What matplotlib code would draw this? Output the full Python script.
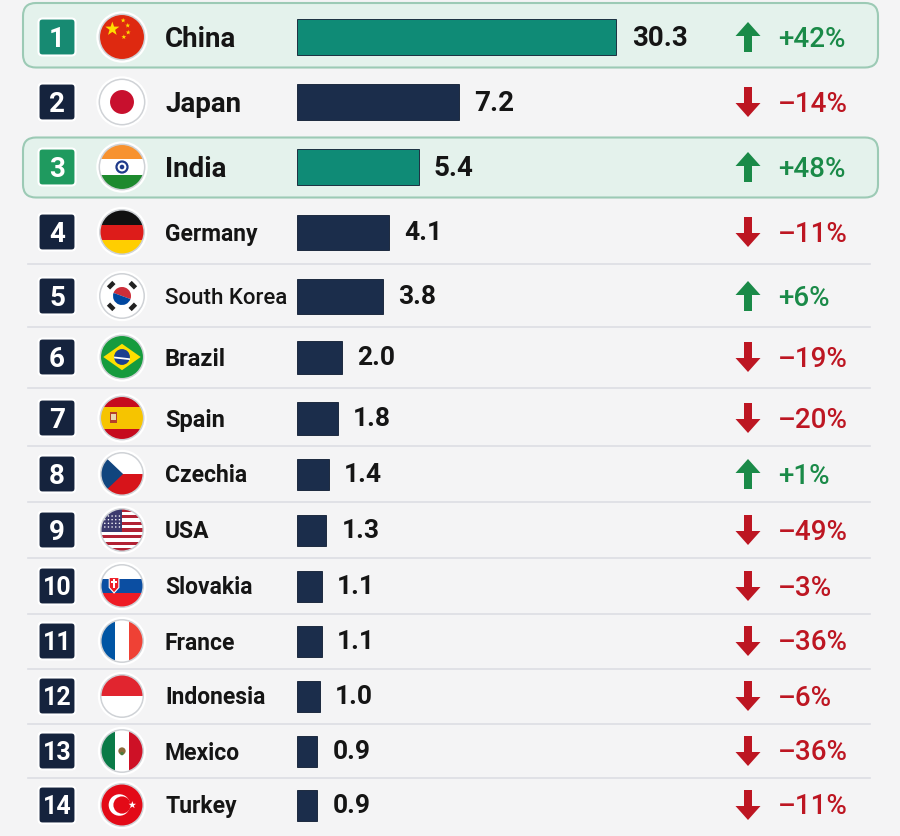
import numpy as np
import matplotlib
matplotlib.use("Agg")
import matplotlib.pyplot as plt
from matplotlib.patches import Circle, Rectangle, Polygon, FancyBboxPatch, FancyArrow, Wedge

# ---------------- data ----------------
ranks = [1, 2, 3, 4, 5, 6, 7, 8, 9, 10, 11, 12, 13, 14]
countries = ["China", "Japan", "India", "Germany", "South Korea", "Brazil", "Spain",
             "Czechia", "USA", "Slovakia", "France", "Indonesia", "Mexico", "Turkey"]
values = [30.3, 7.2, 5.4, 4.1, 3.8, 2.0, 1.8, 1.4, 1.3, 1.1, 1.1, 1.0, 0.9, 0.9]
changes = [42, -14, 48, -11, 6, -19, -20, 1, -49, -3, -36, -6, -36, -11]
highlighted = ["China", "India"]

# ---------------- layout (pixels) ----------------
W, H = 900, 837
row_y = [38, 103, 168, 233, 297, 358, 419, 475, 531, 587, 642, 697, 752, 806]
bar_h = [36, 36, 36, 35, 35, 33, 33, 31, 31, 31, 31, 31, 31, 31]
flag_r = [23, 23, 23, 22.5, 22.5, 22, 22, 21.5, 21.5, 21.5, 21.5, 21.5, 21.5, 21.5]
name_fs = [20, 20, 20, 16.5, 16, 17, 17, 16.5, 16.5, 16.5, 16.5, 16.5, 16.5, 16.5]
name_wt = ["bold"] * 4 + ["medium"] + ["bold"] * 9
BAR_LEFT = 297
PX_PER_UNIT = 22.5
BREAK, K = 8.0, 0.278

NAVY = "#1b2d4b"
BADGE_NAVY = "#15233d"
TEAL = "#0f8b76"
BADGE_TEAL = "#178a72"
BADGE_GREEN = "#1f9a5f"
UP = "#1a8a48"
DOWN = "#bd1622"
FONT = "Roboto"

fig = plt.figure(figsize=(W / 100, H / 100), dpi=100)
fig.patch.set_facecolor("#f4f4f5")
ax = fig.add_axes([0, 0, 1, 1])
ax.set_xlim(0, W)
ax.set_ylim(H, 0)
ax.axis("off")


def star(cx, cy, R, rot=0.0):
    pts = []
    for i in range(10):
        rr = R if i % 2 == 0 else R * 0.40
        a = -np.pi / 2 + i * np.pi / 5 + rot
        pts.append((cx + rr * np.cos(a), cy + rr * np.sin(a)))
    return pts


def draw_flag(name, cx, cy, r):
    clip = Circle((cx, cy), r, transform=ax.transData)
    parts = []

    def rect(x0, y0, w, h, c):
        parts.append(Rectangle((x0, y0), w, h, facecolor=c, edgecolor="none"))

    def poly(pts, c):
        parts.append(Polygon(pts, closed=True, facecolor=c, edgecolor="none"))

    def circ(x, y, rr, c, ec="none", lw=0):
        parts.append(Circle((x, y), rr, facecolor=c, edgecolor=ec, lw=lw))

    L, T, D = cx - r, cy - r, 2 * r
    if name == "China":
        rect(L, T, D, D, "#de2910")
        poly(star(cx - 0.42 * r, cy - 0.35 * r, 0.32 * r), "#ffde00")
        for (dx, dy) in [(0.05, -0.72), (0.25, -0.5), (0.27, -0.2), (0.08, 0.0)]:
            poly(star(cx + dx * r, cy + dy * r, 0.11 * r), "#ffde00")
    elif name == "Japan":
        rect(L, T, D, D, "white")
        circ(cx, cy, 0.52 * r, "#c8102e")
    elif name == "India":
        rect(L, T, D, D / 3, "#f7922f")
        rect(L, T + D / 3, D, D / 3, "white")
        rect(L, T + 2 * D / 3, D, D / 3, "#1d8a2e")
        circ(cx, cy, 0.24 * r, "none", ec="#1f3a8a", lw=1.6)
        circ(cx, cy, 0.1 * r, "#1f3a8a")
    elif name == "Germany":
        rect(L, T, D, D / 3, "#111111")
        rect(L, T + D / 3, D, D / 3, "#dd1c1a")
        rect(L, T + 2 * D / 3, D, D / 3, "#ffce00")
    elif name == "South Korea":
        rect(L, T, D, D, "white")
        parts.append(Wedge((cx, cy), 0.4 * r, 180 + 20, 360 + 20, facecolor="#cd2e3a", edgecolor="none"))
        parts.append(Wedge((cx, cy), 0.4 * r, 20, 180 + 20, facecolor="#0047a0", edgecolor="none"))
        for ang in [45, 135, 225, 315]:
            a = np.deg2rad(ang)
            px, py = cx + 0.68 * r * np.cos(a), cy + 0.68 * r * np.sin(a)
            s = 0.17 * r
            rot = a + np.pi / 2
            pts = []
            for (u, v) in [(-s, -s * 0.6), (s, -s * 0.6), (s, s * 0.6), (-s, s * 0.6)]:
                pts.append((px + u * np.cos(rot) - v * np.sin(rot), py + u * np.sin(rot) + v * np.cos(rot)))
            poly(pts, "#222222")
    elif name == "Brazil":
        rect(L, T, D, D, "#169b3e")
        poly([(cx - 0.85 * r, cy), (cx, cy - 0.6 * r), (cx + 0.85 * r, cy), (cx, cy + 0.6 * r)], "#fedf00")
        circ(cx, cy, 0.36 * r, "#1b3f8f")
        poly([(cx - 0.36 * r, cy - 0.02 * r), (cx + 0.36 * r, cy + 0.06 * r),
              (cx + 0.36 * r, cy + 0.14 * r), (cx - 0.36 * r, cy + 0.06 * r)], "white")
    elif name == "Spain":
        rect(L, T, D, D / 4, "#c60b1e")
        rect(L, T + D / 4, D, D / 2, "#f6c400")
        rect(L, T + 3 * D / 4, D, D / 4, "#c60b1e")
        rect(cx - 0.55 * r, cy - 0.28 * r, 0.34 * r, 0.5 * r, "#b5402a")
        rect(cx - 0.48 * r, cy - 0.18 * r, 0.2 * r, 0.28 * r, "#e8d9b0")
    elif name == "Czechia":
        rect(L, T, D, r, "white")
        rect(L, cy, D, r, "#d7141a")
        poly([(L, T), (cx + 0.05 * r, cy), (L, T + D)], "#11457e")
    elif name == "USA":
        sh = D / 13
        for i in range(13):
            rect(L, T + i * sh, D, sh, "#b22234" if i % 2 == 0 else "white")
        rect(L, T, r * 1.0, sh * 7, "#3c3b6e")
        for i in range(4):
            for j in range(5):
                circ(L + 0.2 * r + j * 0.17 * r, T + 0.35 * r + i * 0.17 * r, 0.035 * r, "white")
    elif name == "Slovakia":
        rect(L, T, D, D / 3, "white")
        rect(L, T + D / 3, D, D / 3, "#0b4ea2")
        rect(L, T + 2 * D / 3, D, D / 3, "#ee1c25")
        sx, sw, st = cx - 0.62 * r, 0.5 * r, cy - 0.42 * r
        poly([(sx, st), (sx + sw, st), (sx + sw, st + 0.5 * r),
              (sx + sw / 2, st + 0.78 * r), (sx, st + 0.5 * r)], "white")
        poly([(sx + 0.05 * r, st + 0.05 * r), (sx + sw - 0.05 * r, st + 0.05 * r),
              (sx + sw - 0.05 * r, st + 0.48 * r), (sx + sw / 2, st + 0.7 * r),
              (sx + 0.05 * r, st + 0.48 * r)], "#ee1c25")
        rect(sx + sw / 2 - 0.04 * r, st + 0.1 * r, 0.08 * r, 0.4 * r, "white")
        rect(sx + sw / 2 - 0.14 * r, st + 0.2 * r, 0.28 * r, 0.06 * r, "white")
    elif name == "France":
        rect(L, T, D / 3, D, "#0055a4")
        rect(L + D / 3, T, D / 3, D, "white")
        rect(L + 2 * D / 3, T, D / 3, D, "#ef4135")
    elif name == "Indonesia":
        rect(L, T, D, r, "#e1252f")
        rect(L, cy, D, r, "white")
    elif name == "Mexico":
        rect(L, T, D / 3, D, "#0a7a47")
        rect(L + D / 3, T, D / 3, D, "white")
        rect(L + 2 * D / 3, T, D / 3, D, "#ce1126")
        circ(cx, cy, 0.17 * r, "#8a6a3a")
        circ(cx, cy + 0.12 * r, 0.08 * r, "#4b7a3a")
    elif name == "Turkey":
        rect(L, T, D, D, "#e30a17")
        circ(cx - 0.12 * r, cy, 0.5 * r, "white")
        circ(cx + 0.0 * r, cy, 0.4 * r, "#e30a17")
        poly(star(cx + 0.48 * r, cy, 0.18 * r, rot=-np.pi / 2 + np.pi / 5 * 0.5), "white")

    for p in parts:
        ax.add_patch(p)
        p.set_clip_path(clip)
    ax.add_patch(Circle((cx, cy), r, facecolor="none", edgecolor="#cfd2d6", lw=1.5, zorder=5))
    ax.add_patch(Circle((cx, cy), r + 1.6, facecolor="none", edgecolor="white", lw=1.6, zorder=5))


# ---------------- highlight boxes ----------------
n = len(countries)
bounds = [0] + [(row_y[i] + row_y[i + 1]) / 2 for i in range(n - 1)] + [H]
for i, c in enumerate(countries):
    if c in highlighted:
        y0 = bounds[i] + 3 if i > 0 else 4
        y1 = bounds[i + 1] - 2
        ax.add_patch(FancyBboxPatch((23, y0), 855, y1 - y0,
                                    boxstyle="round,pad=0,rounding_size=13",
                                    facecolor="#e4f2ec", edgecolor="#9ccab5", lw=1.5, zorder=0.5))

# separators between plain rows
for i in range(n - 1):
    if countries[i] in highlighted or countries[i + 1] in highlighted:
        continue
    ax.plot([28, 870], [bounds[i + 1], bounds[i + 1]], color="#dcdee4", lw=1.2, zorder=0.6)

# ---------------- rows ----------------
for i, (rk, c, ch) in enumerate(zip(ranks, countries, changes)):
    y = row_y[i]
    if c == "China":
        bc = BADGE_TEAL
    elif c in highlighted:
        bc = BADGE_GREEN
    else:
        bc = BADGE_NAVY
    s = 37
    ax.add_patch(FancyBboxPatch((57 - s / 2, y - s / 2), s, s,
                                boxstyle="round,pad=0,rounding_size=4",
                                facecolor=bc, edgecolor="white", lw=1.5, zorder=2))
    ax.text(57, y + 1, str(rk), ha="center", va="center", color="white",
            fontsize=20 if rk < 10 else 18, fontweight="bold", family=FONT, zorder=3)
    draw_flag(c, 122, y, flag_r[i])
    ax.text(165, y + 1, c, ha="left", va="center", color="#151515",
            fontsize=name_fs[i], fontweight=name_wt[i], family=FONT, zorder=3)
    # arrow
    if ch >= 0:
        ax.add_patch(FancyArrow(748, y + 15, 0, -30, width=8, head_width=25, head_length=14,
                                length_includes_head=True, facecolor=UP, edgecolor="none", zorder=3))
        col, lab = UP, f"+{ch}%"
    else:
        ax.add_patch(FancyArrow(748, y - 15, 0, 30, width=8, head_width=25, head_length=14,
                                length_includes_head=True, facecolor=DOWN, edgecolor="none", zorder=3))
        col, lab = DOWN, f"\u2013{abs(ch)}%"
    ax.text(778, y + 1, lab, ha="left", va="center", color=col,
            fontsize=20, fontweight="medium", family=FONT, zorder=3)

# ---------------- bars (broken linear scale) ----------------
def fwd(x):
    x = np.asarray(x, dtype=float)
    return np.where(x <= BREAK, x, BREAK + (x - BREAK) * K)


def inv(y):
    y = np.asarray(y, dtype=float)
    return np.where(y <= BREAK, y, BREAK + (y - BREAK) / K)


axb = fig.add_axes([BAR_LEFT / W, 0, (W - BAR_LEFT) / W, 1])
axb.patch.set_alpha(0)
axb.set_xscale("function", functions=(fwd, inv))
xmax_scaled = (W - BAR_LEFT) / PX_PER_UNIT
axb.set_xlim(0, float(inv(xmax_scaled)))
axb.set_ylim(H, 0)
axb.axis("off")
colors = [TEAL if c in highlighted else NAVY for c in countries]
axb.barh(row_y, values, height=bar_h, color=colors, edgecolor="#0d1a30", linewidth=0.6, left=0)
for i, v in enumerate(values):
    axb.annotate(f"{v:.1f}", xy=(v, row_y[i]), xytext=(11, 0), textcoords="offset points",
                 ha="left", va="center", fontsize=20 if i < 3 else 19, fontweight="bold",
                 family=FONT, color="#151515", annotation_clip=False)

fig.savefig("out.png", dpi=100, facecolor=fig.get_facecolor())
